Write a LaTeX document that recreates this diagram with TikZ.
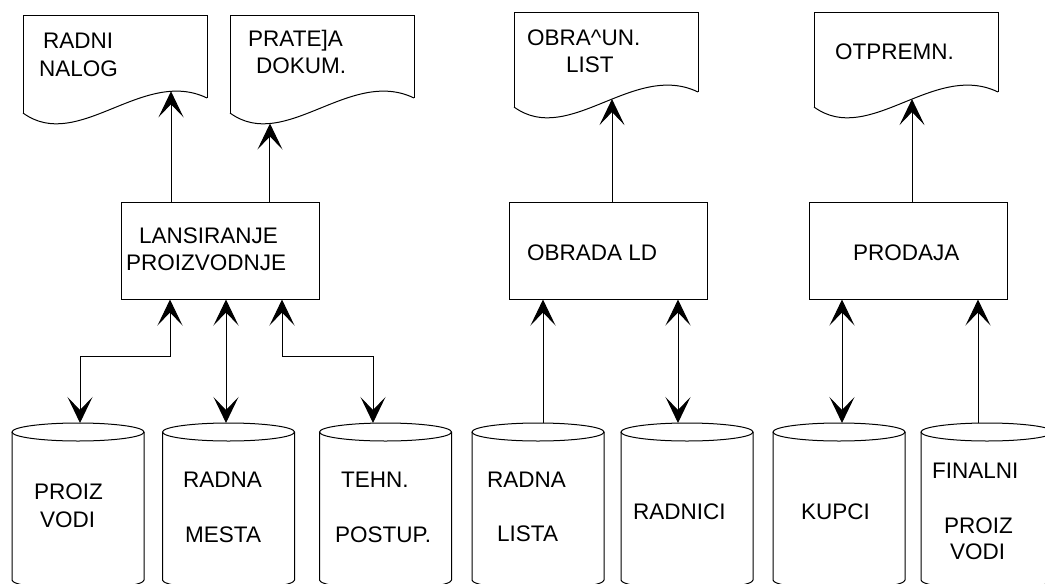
\documentclass[tikz,border=0pt]{standalone}
\usepackage{fontspec}
\setmainfont{Liberation Sans}
\usetikzlibrary{arrows.meta,intersections}

\tikzset{
  outline/.style={line width=1pt, draw=black},
  procbox/.style={outline, rectangle, minimum width=198pt, minimum height=97pt, inner sep=0pt},
  lbl/.style={font=\fontsize{22.5}{27}\selectfont, anchor=base west, inner sep=0pt},
  bighead/.tip={Stealth[length=26pt,width=25pt,inset=13pt]},
  flow/.style={outline, -bighead},
  dflow/.style={outline, bighead-bighead},
}

% printed document: left x, top y, bottom-left y; the wavy lower edge gets a path name
\newcommand{\paperdoc}[4]{%
  \draw[outline] (#2,#4) -- (#2,#3) -- (#2+184,#3) -- (#2+184,#4-15);
  \draw[outline, name path=#1] (#2,#4) .. controls +(55,40) and +(-64,-31) .. (#2+184,#4-15);
}
% point where a vertical line at x meets a document's lower edge
\newcommand{\doctip}[3]{%
  \path[name path=#3-v] (#2,0) -- (#2,200);
  \path[name intersections={of=#1 and #3-v, by={#3}}];
}
% data store drum with its centre x
\newcommand{\drum}[1]{%
  \draw[outline] (#1-66,432) -- (#1-66,580)
    arc[start angle=180, end angle=360, x radius=66pt, y radius=9pt] -- (#1+66,432);
  \draw[outline] (#1,432) ellipse[x radius=66pt, y radius=9pt];
}

\begin{document}
\begin{tikzpicture}[x=1pt,y=-1pt]
\fill[white] (0,0) rectangle (1045,584);
\useasboundingbox (0,0) rectangle (1045,584);

% output documents
\paperdoc{dnalog}{23}{15}{113}
\paperdoc{dprat}{230}{15}{113}
\paperdoc{dobr}{514}{12}{107}
\paperdoc{dotp}{814}{12}{107}
\doctip{dnalog}{171}{nalogIn}
\doctip{dprat}{270}{pratIn}
\doctip{dobr}{612}{obrIn}
\doctip{dotp}{912}{otpIn}

\node[lbl] (t-radni)   at (43,48)  {RADNI};
\node[lbl] (t-nalog)   at (39,76)  {NALOG};
\node[lbl] (t-prateja) at (248,46) {PRATE]A};
\node[lbl] (t-dokum)   at (256,73) {DOKUM.};
\node[lbl] (t-obracun) at (527,45) {OBRA\textasciicircum UN.};
\node[lbl] (t-list)    at (566,72) {LIST};
\node[lbl] (t-otpremn) at (835,59) {OTPREMN.};

% processes
\node[procbox] (lans) at (220.5,250.5) {};
\node[procbox] (obrada) at (608,250.5) {};
\node[procbox] (prodaja) at (908.5,250.5) {};
\node[lbl] (t-lans1) at (139,243) {LANSIRANJE};
\node[lbl] (t-lans2) at (126,270) {PROIZVODNJE};
\node[lbl] (t-obrada) at (527,260) {OBRADA LD};
\node[lbl] (t-prodaja) at (853,260) {PRODAJA};

% data stores
\drum{78}
\drum{228.5}
\drum{385.5}
\drum{538}
\drum{687}
\drum{839}
\drum{987}
\coordinate (proizIn)  at (80,423);
\coordinate (mestaIn)  at (226,423);
\coordinate (tehnIn)   at (373,423);
\coordinate (listaIn)  at (543,423);
\coordinate (radnIn)   at (678,423);
\coordinate (kupciIn)  at (842,423);
\coordinate (finIn)    at (978,423);

\node[lbl] (t-proiz1) at (34,499)  {PROIZ};
\node[lbl] (t-vodi1)  at (40,527)  {VODI};
\node[lbl] (t-radna1) at (183,487) {RADNA};
\node[lbl] (t-mesta)  at (185,542) {MESTA};
\node[lbl] (t-tehn)   at (341,487) {TEHN.};
\node[lbl] (t-postup) at (335,542) {POSTUP.};
\node[lbl] (t-radna2) at (487,487) {RADNA};
\node[lbl] (t-lista)  at (497,541) {LISTA};
\node[lbl] (t-radnici) at (633,519) {RADNICI};
\node[lbl] (t-kupci)  at (801,519) {KUPCI};
\node[lbl] (t-finalni) at (932,478) {FINALNI};
\node[lbl] (t-proiz2) at (944,533) {PROIZ};
\node[lbl] (t-vodi2)  at (950,559) {VODI};

% process -> documents
\draw[flow] (nalogIn |- lans.north) -- (nalogIn);
\draw[flow] (pratIn |- lans.north) -- (pratIn);
\draw[flow] (obrIn |- obrada.north) -- (obrIn);
\draw[flow] (otpIn |- prodaja.north) -- (otpIn);

% data stores <-> processes
\draw[dflow] ([xshift=49pt]lans.south west) -- ++(0,57) -| (proizIn);
\draw[dflow] (mestaIn |- lans.south) -- (mestaIn);
\draw[dflow] ([xshift=161pt]lans.south west) -- ++(0,57) -| (tehnIn);
\draw[flow] (listaIn) -- (listaIn |- obrada.south);
\draw[dflow] (radnIn |- obrada.south) -- (radnIn);
\draw[dflow] (kupciIn |- prodaja.south) -- (kupciIn);
\draw[flow] (finIn) -- (finIn |- prodaja.south);
\end{tikzpicture}
\end{document}
